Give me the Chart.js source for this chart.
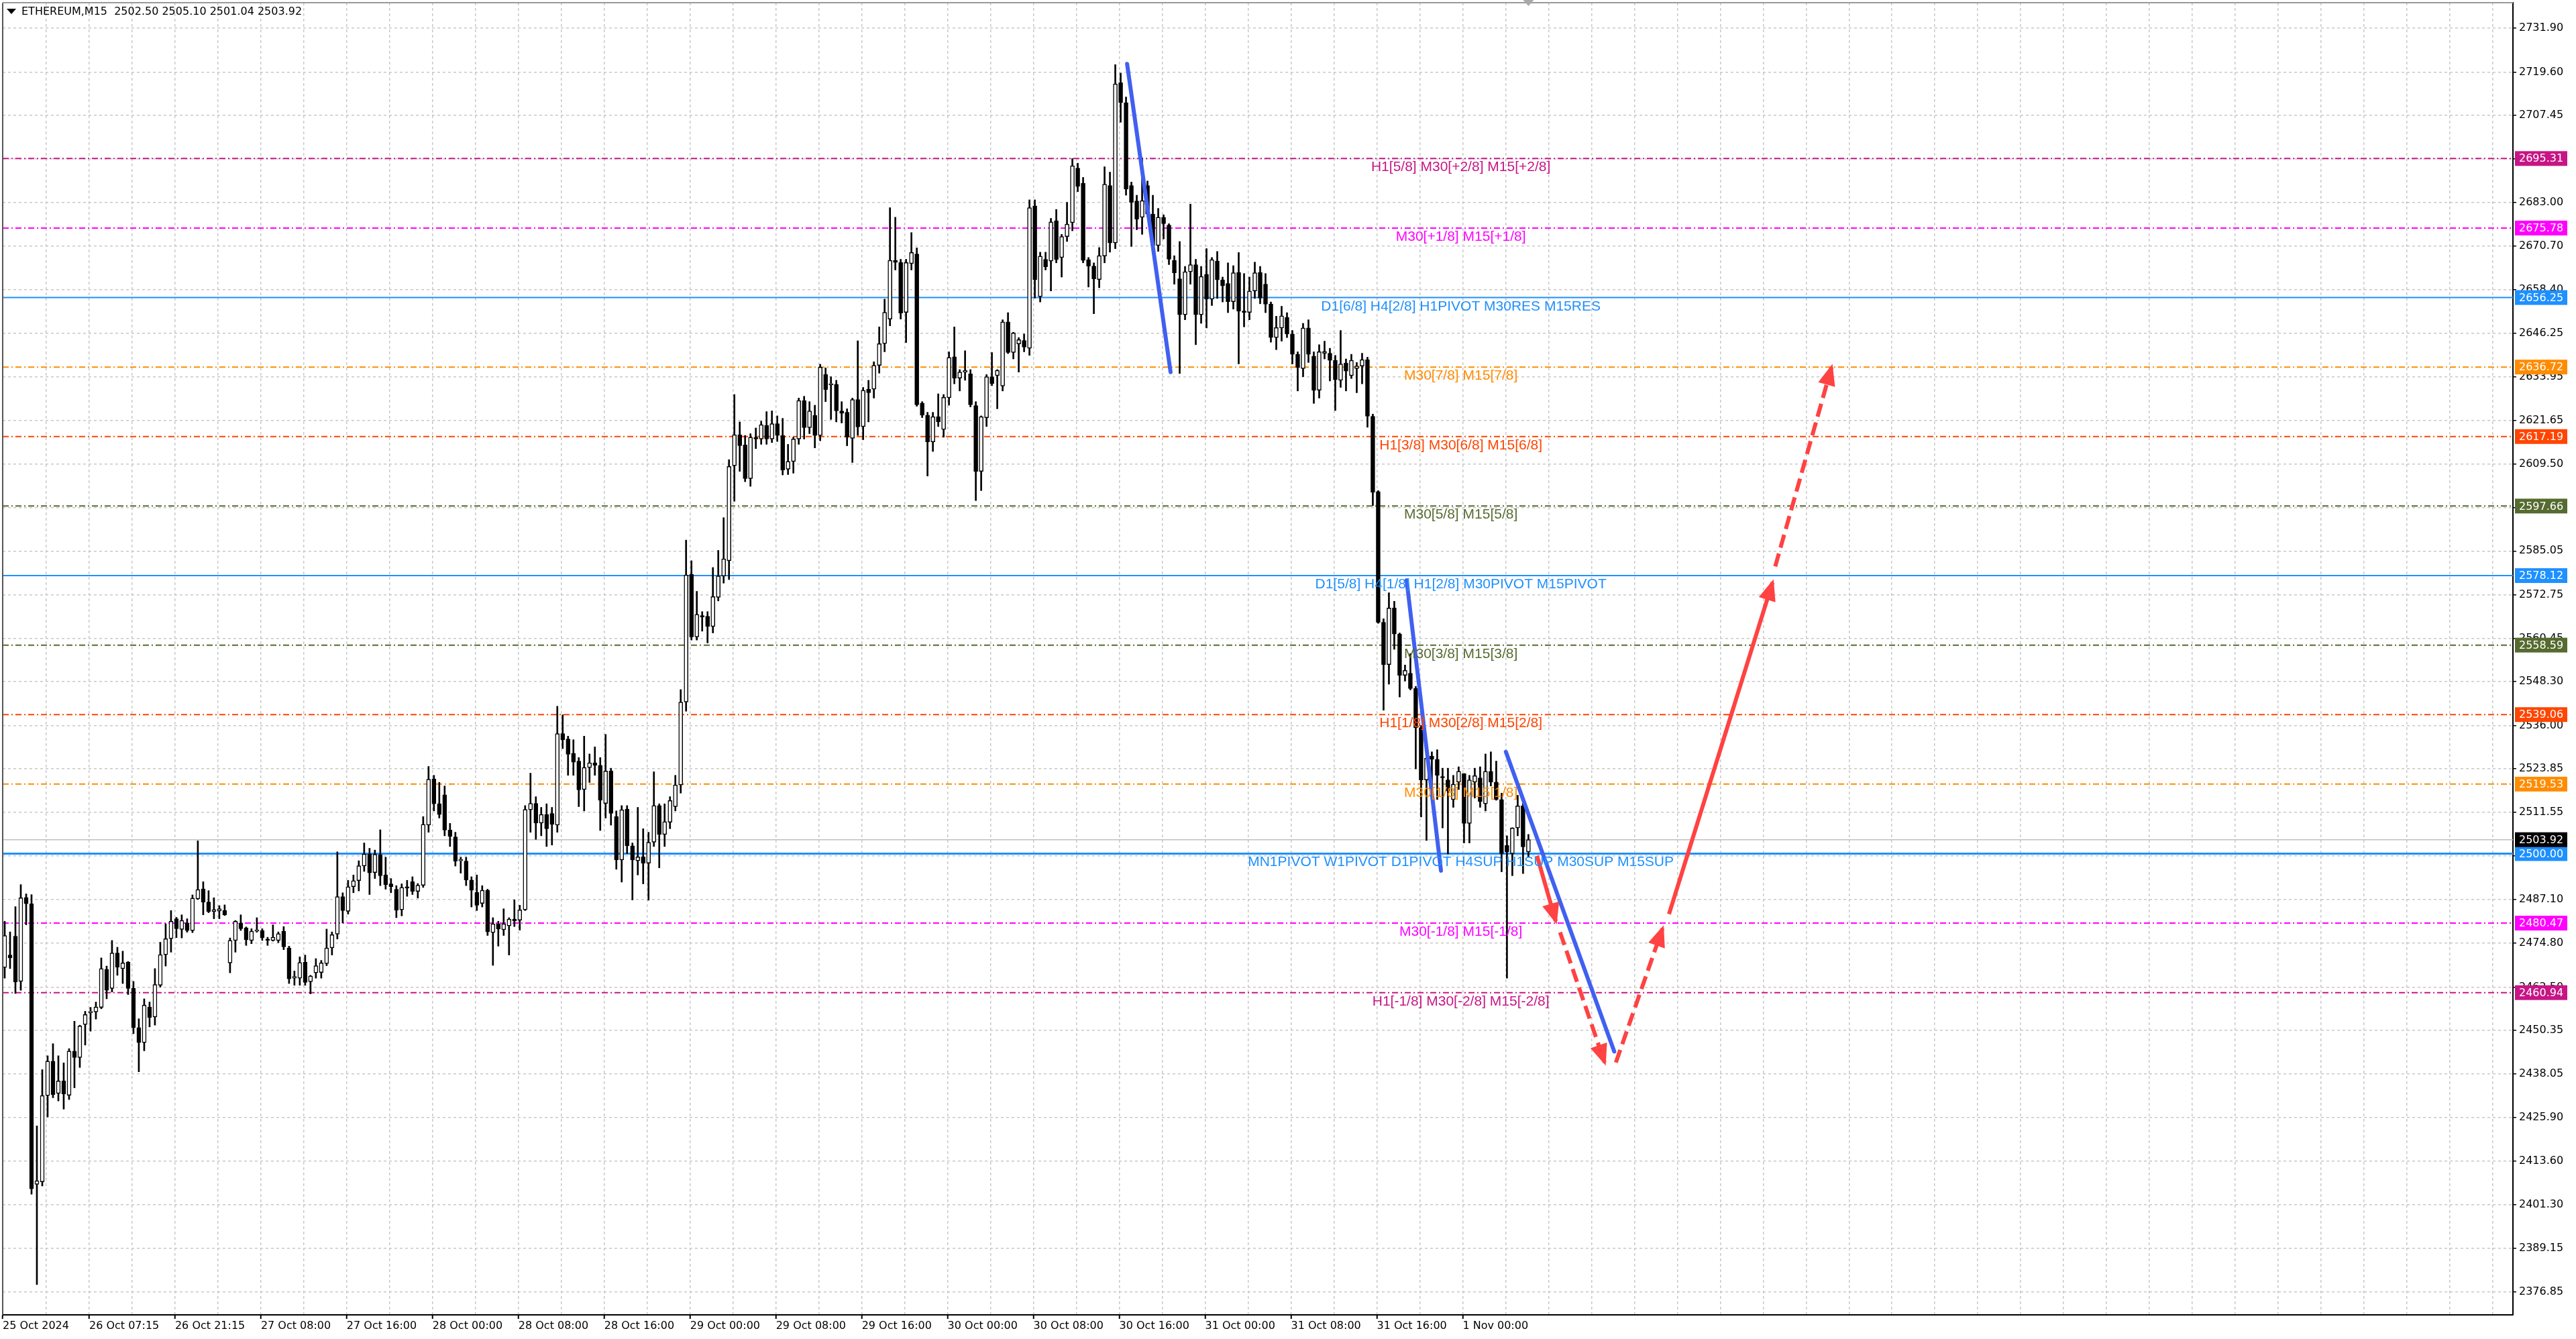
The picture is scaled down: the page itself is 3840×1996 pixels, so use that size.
<!DOCTYPE html>
<html>
<head>
<meta charset="utf-8">
<title>ETHEREUM,M15</title>
<script src="https://cdn.jsdelivr.net/npm/chart.js@4.4.1/dist/chart.umd.min.js"></script>
<style>
html, body { margin: 0; padding: 0; background: #fff; }
canvas { display: block; }
</style>
</head>
<body>
<canvas id="chart" width="3840" height="1996"></canvas>
<script>
// ETHEREUM M15, candles grouped by 30 min (slot = one candle)
const opens = [
  2468.0, 2471.5, 2476.8, 2464.1, 2487.7, 2485.9, 2407.1, 2407.8, 2432.0, 2441.7,
  2432.6, 2436.1, 2432.1, 2444.5, 2442.7, 2452.0, 2455.3, 2455.5, 2456.8, 2467.5,
  2462.1, 2472.1, 2467.7, 2469.5, 2462.2, 2451.1, 2446.9, 2456.9, 2454.1, 2463.0,
  2471.6, 2476.1, 2481.7, 2478.7, 2480.5, 2478.4, 2487.3, 2490.1, 2486.4, 2483.7,
  2483.9, 2484.0, 2469.3, 2475.6, 2480.5, 2479.1, 2475.6, 2478.2, 2478.4, 2475.8,
  2475.6, 2475.6, 2478.2, 2473.5, 2465.0, 2465.0, 2469.5, 2464.0, 2466.5, 2466.6,
  2469.1, 2473.5, 2477.4, 2487.9, 2483.8, 2490.7, 2492.4, 2496.5, 2499.9, 2494.7,
  2499.7, 2494.0, 2491.5, 2490.0, 2484.2, 2490.5, 2492.1, 2489.4, 2491.1, 2508.0,
  2521.0, 2514.0, 2516.5, 2506.6, 2504.7, 2498.0, 2497.9, 2492.6, 2489.1, 2486.0,
  2489.7, 2477.8, 2480.3, 2478.6, 2479.7, 2481.6, 2481.3, 2484.2, 2512.3, 2514.1,
  2508.6, 2511.0, 2511.3, 2508.0, 2533.7, 2532.2, 2528.2, 2526.0, 2518.0, 2524.2,
  2525.5, 2524.8, 2514.1, 2523.2, 2510.4, 2498.2, 2512.5, 2502.2, 2498.0, 2499.1,
  2497.3, 2503.2, 2513.5, 2505.4, 2508.8, 2513.2, 2519.3, 2542.6, 2578.5, 2560.9,
  2566.9, 2566.7, 2563.8, 2572.0, 2578.0, 2582.3, 2609.0, 2617.7, 2614.8, 2605.4,
  2616.7, 2616.5, 2620.3, 2616.5, 2620.8, 2617.5, 2608.0, 2610.2, 2616.5, 2627.3,
  2619.7, 2623.1, 2617.5, 2634.6, 2631.7, 2631.9, 2624.4, 2624.0, 2616.7, 2627.6,
  2620.0, 2630.5, 2630.5, 2637.2, 2643.3, 2650.2, 2666.7, 2666.1, 2652.1, 2665.8,
  2668.5, 2626.6, 2623.2, 2615.7, 2622.8, 2619.2, 2628.1, 2639.6, 2633.6, 2635.3,
  2634.8, 2625.9, 2607.4, 2622.5, 2634.0, 2634.3, 2631.4, 2649.4, 2640.8, 2643.2,
  2644.2, 2642.0, 2682.0, 2656.5, 2667.0, 2666.5, 2677.8, 2667.5, 2673.4, 2677.3,
  2692.6, 2688.4, 2666.9, 2665.1, 2661.3, 2667.9, 2687.7, 2671.6, 2716.6, 2711.0,
  2687.7, 2683.4, 2678.8, 2687.7, 2679.7, 2670.9, 2678.8, 2676.6, 2666.7, 2661.5,
  2651.4, 2663.5, 2665.5, 2651.4, 2662.8, 2655.8, 2666.5, 2661.2, 2660.2, 2655.1,
  2663.3, 2652.4, 2652.1, 2658.1, 2663.3, 2660.0, 2654.4, 2645.0, 2647.7, 2650.7,
  2646.0, 2640.3, 2636.3, 2647.7, 2639.8, 2630.2, 2640.6, 2640.6, 2638.6, 2633.0,
  2637.8, 2634.3, 2636.3, 2637.0, 2638.8, 2622.9, 2601.7, 2565.0, 2553.1, 2569.0,
  2561.7, 2550.1, 2550.7, 2546.4, 2535.4, 2520.7, 2527.4, 2526.5, 2521.5, 2520.7,
  2515.2, 2520.1, 2522.5, 2508.5, 2520.1, 2521.3, 2514.0, 2523.1, 2520.1, 2515.2,
  2502.3, 2500.0, 2507.2, 2513.4, 2500.5
];
const highs = [
  2481.0, 2478.0, 2485.1, 2491.3, 2488.7, 2488.5, 2423.5, 2439.3, 2443.2, 2446.6,
  2443.2, 2441.2, 2445.2, 2452.9, 2451.8, 2455.7, 2456.8, 2458.3, 2470.7, 2468.4,
  2475.6, 2473.7, 2472.6, 2469.7, 2464.1, 2453.6, 2459.2, 2458.3, 2467.7, 2475.1,
  2480.3, 2484.0, 2482.1, 2482.8, 2481.7, 2488.4, 2503.6, 2492.1, 2489.6, 2487.6,
  2485.4, 2485.6, 2476.3, 2481.2, 2482.8, 2479.4, 2478.9, 2482.0, 2478.9, 2476.5,
  2480.0, 2478.0, 2479.5, 2474.0, 2467.0, 2471.0, 2471.5, 2465.8, 2470.5, 2470.0,
  2478.8, 2478.0, 2500.5, 2489.0, 2492.5, 2494.0, 2498.0, 2503.0, 2501.5, 2501.0,
  2506.7, 2499.0, 2493.0, 2491.0, 2491.5, 2492.5, 2493.5, 2491.6, 2510.4, 2524.5,
  2522.0, 2520.0, 2519.0, 2508.5, 2506.0, 2499.0, 2499.0, 2493.5, 2494.0, 2491.0,
  2490.0, 2482.0, 2481.0, 2484.5, 2482.0, 2487.0, 2485.5, 2513.5, 2522.6, 2516.0,
  2513.0, 2514.0, 2513.0, 2541.4, 2539.0, 2533.0, 2532.0, 2527.0, 2533.0, 2528.0,
  2530.0, 2527.0, 2533.5, 2524.0, 2512.0, 2513.5, 2513.5, 2503.0, 2513.0, 2507.0,
  2506.0, 2523.0, 2514.0, 2514.0, 2516.0, 2522.0, 2546.1, 2588.1, 2582.3, 2573.7,
  2568.0, 2568.0, 2580.4, 2585.2, 2594.4, 2610.7, 2629.0, 2621.3, 2617.5, 2618.0,
  2619.6, 2621.5, 2624.2, 2624.4, 2623.0, 2622.3, 2615.0, 2617.0, 2628.0, 2628.5,
  2627.0, 2626.0, 2637.5, 2636.5, 2634.0, 2633.0, 2627.0, 2625.0, 2628.0, 2644.1,
  2631.0, 2633.0, 2638.2, 2648.0, 2655.8, 2681.5, 2678.8, 2667.0, 2667.0, 2674.5,
  2670.2, 2627.0, 2624.0, 2624.0, 2629.2, 2629.0, 2641.0, 2648.0, 2636.0, 2641.3,
  2636.0, 2627.0, 2623.0, 2634.6, 2640.8, 2636.0, 2650.0, 2652.0, 2646.5, 2645.0,
  2646.0, 2683.7, 2683.7, 2669.0, 2669.0, 2678.5, 2681.0, 2674.0, 2683.0, 2695.3,
  2694.0, 2690.0, 2667.5, 2666.0, 2670.3, 2693.0, 2691.5, 2721.7, 2719.3, 2712.6,
  2688.7, 2685.0, 2695.5, 2689.0, 2685.0, 2681.3, 2679.5, 2677.0, 2668.0, 2672.0,
  2665.0, 2682.5, 2667.0, 2665.0, 2670.0, 2667.5, 2669.2, 2662.0, 2666.0, 2665.2,
  2668.9, 2663.0, 2662.0, 2666.2, 2665.0, 2663.0, 2655.0, 2651.0, 2653.8, 2652.0,
  2647.0, 2641.0, 2649.0, 2650.0, 2641.0, 2643.0, 2644.0, 2642.0, 2640.0, 2647.0,
  2639.0, 2640.3, 2638.0, 2640.6, 2639.5, 2623.5, 2602.0, 2566.0, 2573.3, 2570.9,
  2562.0, 2553.0, 2556.2, 2547.0, 2536.0, 2528.0, 2528.6, 2529.2, 2524.0, 2524.0,
  2522.0, 2524.4, 2522.5, 2522.0, 2524.0, 2524.4, 2528.0, 2528.6, 2526.0, 2517.0,
  2505.0, 2507.3, 2516.4, 2515.0, 2505.4
];
const lows = [
  2465.0, 2467.7, 2460.7, 2461.6, 2480.0, 2404.3, 2378.9, 2406.6, 2426.0, 2431.4,
  2430.5, 2428.2, 2430.9, 2434.2, 2439.9, 2446.2, 2450.1, 2453.5, 2456.4, 2459.2,
  2461.1, 2465.8, 2463.5, 2460.4, 2449.4, 2438.7, 2444.6, 2451.3, 2451.8, 2462.5,
  2468.4, 2472.3, 2476.4, 2476.3, 2477.9, 2477.8, 2487.1, 2482.8, 2483.4, 2481.7,
  2481.7, 2482.6, 2466.5, 2472.3, 2478.4, 2474.2, 2474.7, 2477.9, 2475.6, 2474.2,
  2475.4, 2475.0, 2473.0, 2463.5, 2463.0, 2463.0, 2463.0, 2460.6, 2465.0, 2465.0,
  2468.5, 2471.5, 2476.0, 2480.5, 2483.0, 2489.0, 2489.5, 2495.0, 2488.5, 2493.0,
  2491.0, 2490.0, 2489.0, 2482.0, 2482.5, 2488.0, 2488.5, 2487.5, 2490.5, 2506.0,
  2512.0, 2510.0, 2505.0, 2502.0, 2496.5, 2494.5, 2491.0, 2485.0, 2484.0, 2485.0,
  2477.0, 2468.6, 2474.0, 2477.0, 2471.5, 2479.5, 2478.5, 2484.0, 2506.0, 2504.0,
  2505.0, 2502.0, 2502.4, 2506.0, 2529.5, 2522.0, 2522.0, 2513.2, 2512.0, 2520.0,
  2522.0, 2506.5, 2510.0, 2508.0, 2495.6, 2492.0, 2500.0, 2487.0, 2494.0, 2491.5,
  2486.9, 2502.0, 2496.0, 2502.0, 2507.0, 2512.0, 2517.0, 2540.0, 2560.0, 2560.0,
  2562.5, 2559.2, 2562.0, 2571.0, 2576.0, 2577.0, 2599.0, 2607.4, 2604.5, 2603.2,
  2613.8, 2615.0, 2615.0, 2615.5, 2615.8, 2606.4, 2606.5, 2606.9, 2615.0, 2616.5,
  2618.0, 2614.0, 2616.0, 2627.0, 2622.0, 2621.3, 2621.0, 2614.6, 2609.9, 2617.5,
  2616.3, 2621.3, 2628.0, 2635.0, 2641.0, 2648.3, 2664.0, 2650.2, 2643.6, 2664.0,
  2625.7, 2622.5, 2606.1, 2613.0, 2620.0, 2617.0, 2626.0, 2632.0, 2630.0, 2633.0,
  2625.5, 2599.2, 2602.0, 2620.0, 2631.5, 2625.0, 2630.0, 2640.5, 2639.0, 2635.3,
  2641.0, 2640.0, 2656.1, 2655.0, 2664.0, 2658.1, 2666.0, 2662.0, 2672.0, 2675.0,
  2686.0, 2666.0, 2659.2, 2651.7, 2659.0, 2666.0, 2669.0, 2670.0, 2705.5, 2685.0,
  2670.6, 2675.3, 2674.0, 2679.0, 2670.0, 2669.2, 2672.7, 2665.5, 2660.0, 2634.9,
  2650.0, 2660.0, 2643.0, 2649.0, 2647.7, 2654.0, 2656.0, 2655.0, 2652.0, 2653.0,
  2637.6, 2648.0, 2650.0, 2656.0, 2654.5, 2652.0, 2643.7, 2641.6, 2644.0, 2645.0,
  2637.6, 2630.0, 2634.0, 2638.0, 2626.5, 2628.0, 2639.0, 2632.8, 2624.5, 2631.0,
  2630.0, 2633.5, 2629.5, 2632.0, 2619.8, 2597.8, 2564.7, 2540.3, 2547.6, 2557.4,
  2544.0, 2548.5, 2546.0, 2523.8, 2510.3, 2503.7, 2518.0, 2515.2, 2507.2, 2499.9,
  2513.0, 2518.0, 2503.0, 2503.0, 2515.6, 2513.0, 2512.0, 2519.0, 2515.0, 2494.9,
  2465.0, 2493.8, 2505.0, 2494.4, 2499.0
];
const closes = [
  2477.0, 2470.7, 2463.9, 2487.6, 2485.9, 2405.8, 2408.1, 2432.0, 2441.7, 2432.3,
  2436.1, 2432.5, 2444.5, 2442.7, 2451.6, 2454.8, 2455.6, 2456.9, 2467.7, 2461.6,
  2472.1, 2468.1, 2469.3, 2462.1, 2451.1, 2446.9, 2457.4, 2453.9, 2463.2, 2471.6,
  2476.1, 2481.0, 2478.9, 2481.2, 2478.4, 2487.5, 2489.9, 2486.4, 2483.7, 2484.3,
  2484.5, 2482.8, 2475.6, 2481.0, 2478.9, 2475.8, 2478.2, 2478.4, 2476.4, 2475.6,
  2476.5, 2477.5, 2473.8, 2464.8, 2465.5, 2469.4, 2463.8, 2465.6, 2468.5, 2469.3,
  2473.5, 2477.2, 2487.9, 2484.0, 2490.7, 2492.4, 2496.6, 2499.9, 2494.6, 2499.8,
  2493.8, 2491.3, 2490.7, 2484.1, 2490.5, 2490.3, 2489.4, 2491.1, 2508.2, 2520.9,
  2514.0, 2511.0, 2506.6, 2504.8, 2497.9, 2498.3, 2492.6, 2489.7, 2485.5, 2489.7,
  2478.0, 2480.3, 2478.8, 2480.3, 2481.6, 2481.1, 2484.2, 2512.4, 2514.1, 2508.6,
  2511.0, 2507.0, 2508.2, 2533.7, 2532.0, 2527.9, 2525.7, 2517.9, 2524.2, 2525.5,
  2524.8, 2515.0, 2523.2, 2511.3, 2498.2, 2512.3, 2502.2, 2498.2, 2499.1, 2497.3,
  2503.2, 2513.5, 2505.4, 2509.0, 2514.9, 2519.3, 2542.6, 2578.3, 2560.9, 2567.2,
  2566.5, 2563.8, 2572.2, 2578.0, 2582.8, 2608.8, 2617.7, 2614.6, 2605.4, 2617.0,
  2616.5, 2620.5, 2616.5, 2620.8, 2617.5, 2607.8, 2610.2, 2616.5, 2627.3, 2619.7,
  2624.4, 2617.5, 2636.7, 2630.4, 2631.9, 2624.4, 2623.7, 2617.0, 2627.6, 2619.9,
  2630.2, 2629.5, 2637.2, 2643.3, 2652.1, 2666.7, 2666.1, 2651.9, 2666.1, 2668.9,
  2626.1, 2623.2, 2615.7, 2622.8, 2621.3, 2628.2, 2639.4, 2633.6, 2635.3, 2635.8,
  2626.1, 2607.4, 2622.8, 2634.0, 2632.1, 2635.8, 2649.4, 2640.8, 2646.3, 2644.4,
  2642.3, 2681.5, 2661.2, 2667.9, 2664.9, 2677.5, 2666.9, 2673.4, 2676.9, 2693.3,
  2687.5, 2666.7, 2665.1, 2661.5, 2668.0, 2688.1, 2671.6, 2716.3, 2711.0, 2686.7,
  2683.0, 2678.3, 2683.5, 2679.7, 2670.9, 2678.8, 2677.0, 2667.0, 2663.2, 2651.4,
  2663.5, 2665.5, 2651.4, 2662.2, 2655.8, 2666.9, 2661.2, 2659.5, 2655.1, 2663.2,
  2652.4, 2652.1, 2658.1, 2663.2, 2656.1, 2654.4, 2645.0, 2647.8, 2651.1, 2646.0,
  2640.3, 2636.6, 2647.7, 2640.3, 2630.2, 2641.0, 2641.1, 2638.6, 2633.2, 2637.6,
  2635.6, 2638.6, 2637.0, 2638.8, 2622.9, 2601.5, 2565.0, 2553.1, 2569.0, 2561.7,
  2550.1, 2551.5, 2546.4, 2535.4, 2520.7, 2526.8, 2526.5, 2522.0, 2521.3, 2517.6,
  2519.5, 2523.1, 2508.5, 2520.7, 2521.9, 2514.6, 2523.1, 2520.1, 2515.2, 2500.0,
  2500.5, 2507.2, 2513.4, 2501.9, 2503.92
];

// header line (last M15 bar)
const headerSymbol = "ETHEREUM,M15";
const headerOHLC = [2502.50, 2505.10, 2501.04, 2503.92];

// time axis
const timeLabelSlots = [-0.375, 15.75, 31.75, 47.75, 63.75, 79.75, 95.75, 111.75, 127.75,
  143.75, 159.75, 175.75, 191.75, 207.75, 223.75, 239.75, 255.75, 271.75];
const timeLabels = ["25 Oct 2024", "26 Oct 07:15", "26 Oct 21:15", "27 Oct 08:00", "27 Oct 16:00",
  "28 Oct 00:00", "28 Oct 08:00", "28 Oct 16:00", "29 Oct 00:00", "29 Oct 08:00", "29 Oct 16:00",
  "30 Oct 00:00", "30 Oct 08:00", "30 Oct 16:00", "31 Oct 00:00", "31 Oct 08:00", "31 Oct 16:00",
  "1 Nov 00:00"];

// price axis
const priceTicks = [2731.90, 2719.60, 2707.45, 2695.20, 2683.00, 2670.70, 2658.40, 2646.25,
  2633.95, 2621.65, 2609.50, 2597.25, 2585.05, 2572.75, 2560.45, 2548.30, 2536.00, 2523.85,
  2511.55, 2499.35, 2487.10, 2474.80, 2462.50, 2450.35, 2438.05, 2425.90, 2413.60, 2401.30,
  2389.15, 2376.85];

// Murrey levels
const levelPrices = [2695.31, 2675.78, 2656.25, 2636.72, 2617.19, 2597.66, 2578.12,
  2558.59, 2539.06, 2519.53, 2500.00, 2480.47, 2460.94];
const levelNames = [
  "H1[5/8] M30[+2/8] M15[+2/8]",
  "M30[+1/8] M15[+1/8]",
  "D1[6/8] H4[2/8] H1PIVOT M30RES M15RES",
  "M30[7/8] M15[7/8]",
  "H1[3/8] M30[6/8] M15[6/8]",
  "M30[5/8] M15[5/8]",
  "D1[5/8] H4[1/8] H1[2/8] M30PIVOT M15PIVOT",
  "M30[3/8] M15[3/8]",
  "H1[1/8] M30[2/8] M15[2/8]",
  "M30[1/8] M15[1/8]",
  "MN1PIVOT W1PIVOT D1PIVOT H4SUP H1SUP M30SUP M15SUP",
  "M30[-1/8] M15[-1/8]",
  "H1[-1/8] M30[-2/8] M15[-2/8]"
];
const levelColors = ["#C71585", "#FF00FF", "#1E90FF", "#FF8C00", "#FF4500", "#556B2F", "#1E90FF",
  "#556B2F", "#FF4500", "#FF8C00", "#1E90FF", "#FF00FF", "#C71585"];
const levelSolid = [false, false, true, false, false, false, true, false, false, false, true, false, false];
const levelTextSlot = 271.4;
const currentPrice = 2503.92;

// drawn trend lines (slot, price)
const blueLineX = [[209.2, 217.3], [261.3, 267.7], [279.8, 300.0]];
const blueLineY = [[2721.9, 2635.3], [2576.8, 2495.2], [2528.6, 2444.4]];
const redArrowX = [[285.6, 289.1], [289.9, 298.2], [300.3, 309.0], [310.2, 329.5], [330.0, 340.5]];
const redArrowY = [[2499.4, 2481.0], [2477.9, 2441.3], [2441.3, 2479.0], [2483.0, 2576.2], [2580.7, 2636.7]];
const redArrowDashed = [false, true, true, false, true];

const X_MIN = -0.375, X_MAX = 467.5;
const Y_MIN = 2370.4, Y_MAX = 2739.1;
const RED = "#FF4242";
const BLUE = "#4060F0";

// vertical grid every 4 hours
const gridSlots = [X_MIN];
for (let v = 7.75; v < X_MAX; v += 8) gridSlots.push(v);

const slots = opens.map((_, i) => i);
const wickData = slots.map(i => ({ x: i, y: [lows[i], highs[i]] }));
const bodyData = slots.map(i => ({ x: i, y: [opens[i], closes[i]] }));
const bodyColors = slots.map(i => closes[i] >= opens[i] ? "#ffffff" : "#000000");

const levelSets = levelPrices.map((p, i) => ({
  type: "line",
  data: [{ x: X_MIN, y: p }, { x: X_MAX, y: p }],
  borderColor: levelColors[i],
  borderWidth: p === 2500 ? 3 : 2,
  borderDash: levelSolid[i] ? [] : [9, 4, 2, 4],
  pointRadius: 0,
  order: 6
}));

const blueSets = blueLineX.map((xs, i) => ({
  type: "line",
  data: [{ x: xs[0], y: blueLineY[i][0] }, { x: xs[1], y: blueLineY[i][1] }],
  borderColor: BLUE,
  borderWidth: 6,
  borderCapStyle: "round",
  pointRadius: 0,
  order: 1
}));

const redSets = redArrowX.map((xs, i) => ({
  type: "line",
  data: [{ x: xs[0], y: redArrowY[i][0] }, { x: xs[1], y: redArrowY[i][1] }],
  borderColor: RED,
  borderWidth: 6,
  borderDash: redArrowDashed[i] ? [20, 9] : [],
  borderCapStyle: "butt",
  pointRadius: 0,
  order: 0
}));

// 🖌️ overlay: arrow heads, level texts, axis price boxes, header
const overlay = {
  id: "overlay",
  afterDatasetsDraw(chart) {
    const { ctx, chartArea, scales: { x, y } } = chart;
    ctx.save();
    ctx.beginPath();
    ctx.rect(chartArea.left, chartArea.top, chartArea.right - chartArea.left, chartArea.bottom - chartArea.top);
    ctx.clip();

    // arrow heads
    ctx.fillStyle = RED;
    redArrowX.forEach((xs, i) => {
      const x1 = x.getPixelForValue(xs[0]), y1 = y.getPixelForValue(redArrowY[i][0]);
      const x2 = x.getPixelForValue(xs[1]), y2 = y.getPixelForValue(redArrowY[i][1]);
      const a = Math.atan2(y2 - y1, x2 - x1);
      const c = Math.cos(a), s = Math.sin(a);
      const tx = x2 + 5 * c, ty = y2 + 5 * s;
      const len = 32, half = 13;
      ctx.beginPath();
      ctx.moveTo(tx, ty);
      ctx.lineTo(tx - len * c + half * s, ty - len * s - half * c);
      ctx.lineTo(tx - len * c - half * s, ty - len * s + half * c);
      ctx.closePath();
      ctx.fill();
    });

    // level names
    ctx.font = "21px 'Liberation Sans', Arial, sans-serif";
    ctx.textAlign = "center";
    ctx.textBaseline = "alphabetic";
    const cx = x.getPixelForValue(levelTextSlot);
    levelPrices.forEach((p, i) => {
      ctx.fillStyle = levelColors[i];
      ctx.fillText(levelNames[i], cx, y.getPixelForValue(p) + 19);
    });
    ctx.restore();
  },
  afterDraw(chart) {
    const { ctx, chartArea, scales: { x, y } } = chart;
    ctx.save();

    // frame left / top
    ctx.strokeStyle = "#555";
    ctx.lineWidth = 2;
    ctx.beginPath();
    ctx.moveTo(chartArea.left, chartArea.top);
    ctx.lineTo(chartArea.left, chartArea.bottom);
    ctx.stroke();
    ctx.strokeStyle = "#999";
    ctx.beginPath();
    ctx.moveTo(chartArea.left, chartArea.top);
    ctx.lineTo(chartArea.right, chartArea.top);
    ctx.stroke();

    // price boxes on the axis
    ctx.font = "16px 'DejaVu Sans', sans-serif";
    ctx.textAlign = "left";
    ctx.textBaseline = "middle";
    const box = (p, bg) => {
      const py = y.getPixelForValue(p);
      ctx.fillStyle = bg;
      ctx.fillRect(chartArea.right + 3, py - 11, 78, 22);
      ctx.fillStyle = "#fff";
      ctx.fillText(p.toFixed(2), chartArea.right + 9, py + 1);
    };
    levelPrices.forEach((p, i) => box(p, levelColors[i]));
    box(currentPrice, "#000");

    // header
    ctx.fillStyle = "#000";
    ctx.beginPath();
    ctx.moveTo(10, 13);
    ctx.lineTo(24, 13);
    ctx.lineTo(17, 21);
    ctx.closePath();
    ctx.fill();
    ctx.fillText(headerSymbol + "  " + headerOHLC.map(v => v.toFixed(2)).join(" "), 32, 18);

    // shift marker above the last bar
    const lx = x.getPixelForValue(slots[slots.length - 1]);
    ctx.fillStyle = "#a8a8a8";
    ctx.beginPath();
    ctx.moveTo(lx - 8, 0);
    ctx.lineTo(lx + 8, 0);
    ctx.lineTo(lx, 9);
    ctx.closePath();
    ctx.fill();
    ctx.restore();
  }
};

new Chart(document.getElementById("chart"), {
  type: "bar",
  data: {
    datasets: [
      ...redSets,
      ...blueSets,
      {
        type: "bar",
        data: bodyData,
        backgroundColor: bodyColors,
        borderColor: "#000",
        borderWidth: 1.5,
        borderSkipped: false,
        barThickness: 6,
        minBarLength: 2,
        grouped: false,
        order: 3
      },
      {
        type: "bar",
        data: wickData,
        backgroundColor: "#000",
        borderWidth: 0,
        barThickness: 2,
        grouped: false,
        order: 4
      },
      {
        type: "line",
        data: [{ x: X_MIN, y: currentPrice }, { x: X_MAX, y: currentPrice }],
        borderColor: "#c0c0c0",
        borderWidth: 1.5,
        pointRadius: 0,
        order: 5
      },
      ...levelSets
    ]
  },
  options: {
    responsive: false,
    animation: false,
    devicePixelRatio: 1,
    events: [],
    layout: { padding: { left: 4, top: 4, right: 0, bottom: 0 }, autoPadding: false },
    plugins: { legend: { display: false }, tooltip: { enabled: false } },
    scales: {
      x: {
        type: "linear",
        min: X_MIN,
        max: X_MAX,
        offset: false,
        afterBuildTicks: s => { s.ticks = gridSlots.map(v => ({ value: v })); },
        afterFit: s => { s.height = 36; s.paddingLeft = 0; s.paddingRight = 0; },
        ticks: {
          autoSkip: false,
          maxRotation: 0,
          minRotation: 0,
          align: "start",
          padding: 1,
          color: "#000",
          font: { family: "'DejaVu Sans'", size: 16 },
          callback: v => {
            const k = timeLabelSlots.indexOf(v);
            return k >= 0 ? timeLabels[k] : "";
          }
        },
        grid: {
          offset: false,
          color: "#c8c8c8",
          lineWidth: 1.5,
          drawTicks: true,
          tickLength: 6,
          tickWidth: 2,
          tickColor: c => (c.tick && timeLabelSlots.indexOf(c.tick.value) >= 0) ? "#000" : "rgba(0,0,0,0)"
        },
        border: { display: true, color: "#000", width: 2, dash: [4, 4] }
      },
      y: {
        type: "linear",
        position: "right",
        min: Y_MIN,
        max: Y_MAX,
        beginAtZero: false,
        afterBuildTicks: s => { s.ticks = priceTicks.map(v => ({ value: v })); },
        afterFit: s => { s.width = 94; s.paddingTop = 0; s.paddingBottom = 0; },
        ticks: {
          autoSkip: false,
          padding: 4,
          color: "#000",
          font: { family: "'DejaVu Sans'", size: 16 },
          callback: v => Number(v).toFixed(2)
        },
        grid: {
          color: "#c8c8c8",
          lineWidth: 1.5,
          drawTicks: true,
          tickLength: 5,
          tickWidth: 1.5,
          tickColor: "#000"
        },
        border: { display: true, color: "#000", width: 2, dash: [4, 4] }
      }
    }
  },
  plugins: [overlay]
});
</script>
</body>
</html>
